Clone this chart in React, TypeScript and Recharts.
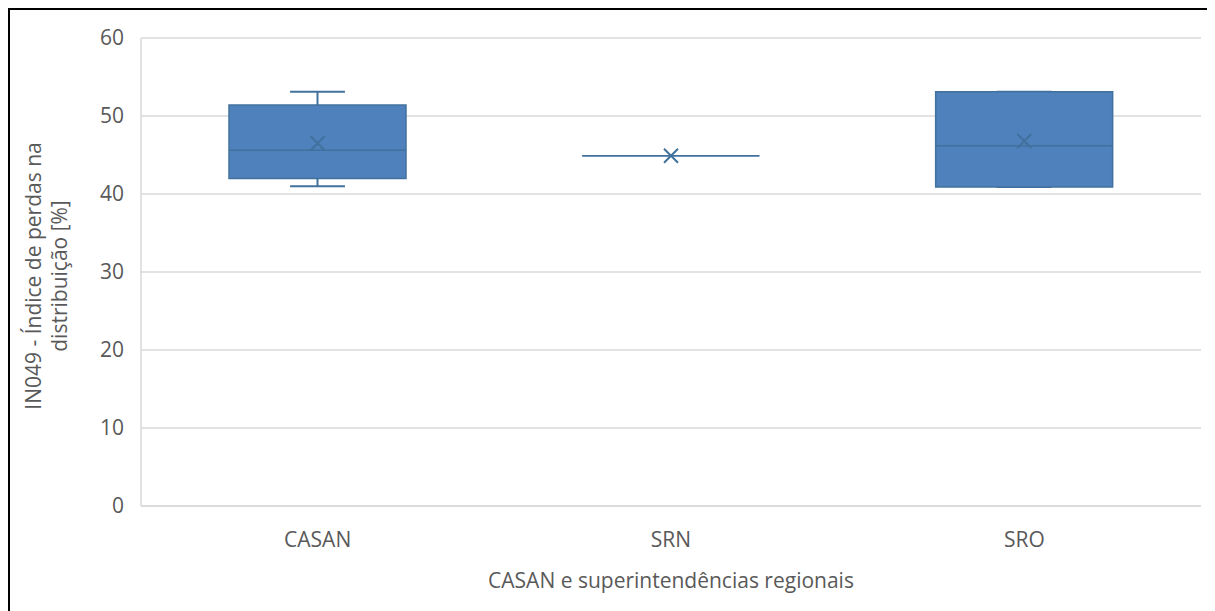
import React from 'react';
import { ComposedChart, Bar, Scatter, XAxis, YAxis, CartesianGrid } from 'recharts';

// Box plot stats (IN049 distribution losses, %)
const categories = ['CASAN', 'SRN', 'SRO'];
const minValues = [41.0, 44.9, 40.9];
const q1Values = [42.0, 44.9, 40.9];
const medianValues = [45.6, 44.9, 46.2];
const q3Values = [51.4, 44.9, 53.1];
const maxValues = [53.1, 44.9, 53.1];
const meanValues = [46.5, 44.9, 46.8];
const yTicks = [0, 10, 20, 30, 40, 50, 60];

const data = categories.map((name, i) => ({
  name,
  min: minValues[i],
  q1: q1Values[i],
  median: medianValues[i],
  q3: q3Values[i],
  max: maxValues[i],
  mean: meanValues[i],
}));

const FILL = '#4F81BD';
const EDGE = '#41719C';
const FONT = '"Open Sans", sans-serif';
const TEXT = '#595959';
const FS = 21;

// whole box + whiskers drawn from the [min, max] range bar
const BoxShape = (props: any) => {
  const { x, width, payload } = props;
  const top = Math.min(props.y, props.y + props.height);
  const bottom = Math.max(props.y, props.y + props.height);
  const span = payload.max - payload.min;
  const toY = (v: number) => (span === 0 ? top : top + ((payload.max - v) / span) * (bottom - top));
  const cx = x + width / 2;
  const cap = width * 0.155;
  const yq1 = toY(payload.q1);
  const yq3 = toY(payload.q3);
  const ymed = toY(payload.median);
  return (
    <g>
      {span > 0 && (
        <>
          <line x1={cx} x2={cx} y1={toY(payload.max)} y2={yq3} stroke={EDGE} strokeWidth={2} />
          <line x1={cx} x2={cx} y1={yq1} y2={toY(payload.min)} stroke={EDGE} strokeWidth={2} />
          <line x1={cx - cap} x2={cx + cap} y1={toY(payload.max)} y2={toY(payload.max)} stroke={EDGE} strokeWidth={2} />
          <line x1={cx - cap} x2={cx + cap} y1={toY(payload.min)} y2={toY(payload.min)} stroke={EDGE} strokeWidth={2} />
        </>
      )}
      <path
        d={`M${x},${yq3}H${x + width}V${yq1}H${x}Z`}
        fill={FILL}
        stroke={EDGE}
        strokeWidth={1.5}
      />
      <line x1={x} x2={x + width} y1={ymed} y2={ymed} stroke={EDGE} strokeWidth={1.5} />
    </g>
  );
};

const MeanMark = (props: any) => {
  const { cx, cy } = props;
  const s = 7;
  return (
    <path
      d={`M${cx - s},${cy - s}L${cx + s},${cy + s}M${cx - s},${cy + s}L${cx + s},${cy - s}`}
      stroke={EDGE}
      strokeWidth={2}
      fill="none"
    />
  );
};

export default function App() {
  return (
    <div
      style={{
        width: 1215,
        height: 620,
        border: '2px solid #000',
        background: '#fff',
        fontFamily: FONT,
      }}
    >
      <ComposedChart
        width={1215}
        height={620}
        data={data}
        margin={{ top: 28, right: 24, left: 0, bottom: 64 }}
        barSize={177}
      >
        <CartesianGrid vertical={false} stroke="#d9d9d9" strokeWidth={1.5} />
        <XAxis
          dataKey="name"
          height={60}
          axisLine={{ stroke: '#d9d9d9', strokeWidth: 1.5 }}
          tickLine={false}
          tickMargin={20}
          tick={{ fill: TEXT, fontSize: FS, fontFamily: FONT }}
          label={{
            value: 'CASAN e superintendências regionais',
            position: 'bottom',
            offset: 7,
            fill: TEXT,
            fontSize: FS,
            fontFamily: FONT,
          }}
        />
        <YAxis
          width={131}
          domain={[0, 60]}
          ticks={yTicks}
          axisLine={{ stroke: '#d9d9d9', strokeWidth: 1.5 }}
          tickLine={false}
          tickMargin={11}
          tick={{ fill: TEXT, fontSize: FS, fontFamily: FONT }}
        />
        <Bar
          dataKey={(d: any) => [d.min, d.max]}
          shape={BoxShape}
          isAnimationActive={false}
        />
        <Scatter dataKey="mean" shape={MeanMark} isAnimationActive={false} />
        <text
          transform="rotate(-90)"
          textAnchor="middle"
          fill={TEXT}
          fontFamily={FONT}
          fontSize={FS}
        >
          <tspan x={-266} y={31}>IN049 - Índice de perdas na</tspan>
          <tspan x={-266} y={57}>distribuição [%]</tspan>
        </text>
      </ComposedChart>
    </div>
  );
}
